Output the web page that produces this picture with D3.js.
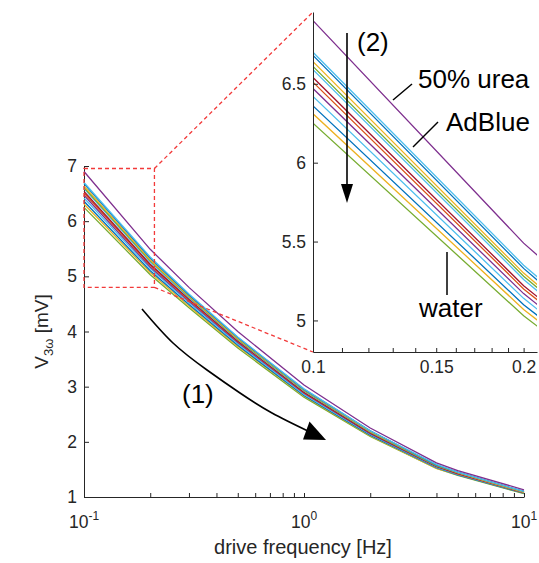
<!DOCTYPE html>
<html>
<head>
<meta charset="utf-8">
<script src="https://cdn.jsdelivr.net/npm/d3@7"></script>
<style>
  body { margin: 0; background: #fff; }
  text { font-family: "Liberation Sans", Arial, sans-serif; }
</style>
</head>
<body>
<svg id="chart" width="539" height="563"></svg>
<script>
// drive frequencies [Hz]
const freqs = [0.1, 0.2, 0.3, 0.5, 1, 2, 4, 5, 10];

// liquids, top curve to bottom curve
const liquids = ["50% urea", "AdBlue", "mix 3", "mix 4", "mix 5", "mix 6", "mix 7",
                 "mix 8", "mix 9", "mix 10", "mix 11", "mix 12", "water"];
const lineColors = ["#7E2F8E", "#4DBEEE", "#0072BD", "#EDB120", "#77AC30", "#4DBEEE", "#A2142F",
                    "#D95319", "#7E2F8E", "#4DBEEE", "#0072BD", "#EDB120", "#77AC30"];

// V_3w [mV] per liquid, one value per frequency
const voltages = [
  [6.90, 5.49, 4.80, 4.00, 3.03, 2.25, 1.62, 1.48, 1.13],
  [6.70, 5.35, 4.68, 3.90, 2.96, 2.20, 1.59, 1.45, 1.10],
  [6.68, 5.33, 4.66, 3.89, 2.95, 2.20, 1.58, 1.45, 1.10],
  [6.64, 5.30, 4.64, 3.87, 2.94, 2.19, 1.58, 1.44, 1.09],
  [6.61, 5.28, 4.63, 3.86, 2.93, 2.18, 1.57, 1.44, 1.09],
  [6.59, 5.26, 4.61, 3.85, 2.92, 2.18, 1.57, 1.44, 1.09],
  [6.54, 5.22, 4.59, 3.83, 2.90, 2.16, 1.56, 1.43, 1.09],
  [6.51, 5.20, 4.57, 3.82, 2.89, 2.16, 1.56, 1.42, 1.08],
  [6.47, 5.17, 4.55, 3.80, 2.88, 2.15, 1.55, 1.42, 1.08],
  [6.42, 5.14, 4.52, 3.78, 2.86, 2.14, 1.54, 1.41, 1.08],
  [6.36, 5.10, 4.49, 3.75, 2.84, 2.12, 1.53, 1.40, 1.07],
  [6.31, 5.07, 4.46, 3.73, 2.83, 2.11, 1.52, 1.40, 1.07],
  [6.25, 5.03, 4.43, 3.70, 2.81, 2.10, 1.52, 1.39, 1.06]
];

// axis ticks
const mainYTicks = [1, 2, 3, 4, 5, 6, 7];
const mainXMajor = [0.1, 1, 10];
const mainXMajorLabels = [["10", "-1"], ["10", "0"], ["10", "1"]];
const mainXMinor = [0.2, 0.3, 0.4, 0.5, 0.6, 0.7, 0.8, 0.9, 2, 3, 4, 5, 6, 7, 8, 9];
const insetYTicks = [5, 5.5, 6, 6.5];
const insetXTicks = [0.1, 0.11, 0.12, 0.13, 0.14, 0.15, 0.16, 0.17, 0.18, 0.19, 0.2];
const insetXLabels = [0.1, 0.15, 0.2];

// zoom window shown in the inset
const zoomX = [0.1, 0.209];
const zoomY = [4.80, 6.955];

const axisColor = "#262626";
const svg = d3.select("#chart");

const x = d3.scaleLog().domain([0.1, 10]).range([84, 524]);
const y = d3.scaleLinear().domain([1, 7]).range([497, 166]);

const ix = d3.scaleLog().domain(zoomX).range([313, 537]);
const iy = d3.scaleLinear().domain(zoomY).range([352, 12]);

const rows = liquids.map((name, i) => ({
  name: name,
  color: lineColors[i],
  pts: freqs.map((f, j) => ({ f: f, v: voltages[i][j] }))
}));

function styleAxis(g, size) {
  g.select(".domain").attr("stroke", axisColor).attr("stroke-width", 1);
  g.selectAll(".tick line").attr("stroke", axisColor);
  g.selectAll(".tick text").attr("fill", axisColor)
    .style("font-size", size + "px")
    .style("font-family", "'Liberation Sans', Arial, sans-serif");
}

// ---------- main axes ----------
const gy = svg.append("g").attr("transform", `translate(${x(0.1)},0)`)
  .call(d3.axisLeft(y).tickValues(mainYTicks).tickSizeInner(-5).tickSizeOuter(0)
    .tickPadding(7).tickFormat(d3.format("d")));
styleAxis(gy, 17.5);

const gx = svg.append("g").attr("transform", `translate(0,${y(1)})`)
  .call(d3.axisBottom(x).tickValues(mainXMajor.concat(mainXMinor))
    .tickSizeInner(-4).tickSizeOuter(0).tickFormat(() => ""));
styleAxis(gx, 17.5);

mainXMajor.forEach((f, i) => {
  const t = svg.append("text")
    .attr("x", x(f)).attr("y", 528)
    .attr("text-anchor", "middle")
    .attr("fill", axisColor)
    .style("font-size", "17.5px");
  t.append("tspan").text(mainXMajorLabels[i][0]);
  t.append("tspan").attr("dy", -8).style("font-size", "12px").text(mainXMajorLabels[i][1]);
});

svg.append("text")
  .attr("x", 303).attr("y", 554)
  .attr("text-anchor", "middle")
  .attr("fill", axisColor)
  .style("font-size", "20px")
  .text("drive frequency [Hz]");

const yl = svg.append("text")
  .attr("transform", `translate(48,${(y(1) + y(7)) / 2}) rotate(-90)`)
  .attr("text-anchor", "middle")
  .attr("fill", axisColor)
  .style("font-size", "19px");
yl.append("tspan").text("V");
yl.append("tspan").attr("dy", 5).style("font-size", "13px").text("3ω");
yl.append("tspan").attr("dy", -5).text(" [mV]");

// ---------- main curves ----------
const mainLine = d3.line().x(d => x(d.f)).y(d => y(d.v));
svg.append("g").selectAll("path")
  .data(rows.slice().reverse())
  .join("path")
  .attr("d", d => mainLine(d.pts))
  .attr("fill", "none")
  .attr("stroke", d => d.color)
  .attr("stroke-width", 1.3);

// ---------- zoom box and connectors ----------
const red = "#f23a3a";
const dashed = g => g.attr("fill", "none").attr("stroke", red)
  .attr("stroke-width", 1.3).attr("stroke-dasharray", "4,3");

svg.append("rect")
  .attr("x", x(zoomX[0])).attr("y", y(zoomY[1]))
  .attr("width", x(zoomX[1]) - x(zoomX[0]))
  .attr("height", y(zoomY[0]) - y(zoomY[1]))
  .call(dashed);

svg.append("line")
  .attr("x1", x(zoomX[1])).attr("y1", y(zoomY[1]))
  .attr("x2", ix(zoomX[0])).attr("y2", iy(zoomY[1]))
  .call(dashed);
svg.append("line")
  .attr("x1", x(zoomX[1])).attr("y1", y(zoomY[0]))
  .attr("x2", ix(zoomX[0])).attr("y2", iy(zoomY[0]))
  .call(dashed);

// ---------- inset ----------
svg.append("clipPath").attr("id", "inset-clip")
  .append("rect")
  .attr("x", ix(zoomX[0])).attr("y", iy(zoomY[1]))
  .attr("width", ix(zoomX[1]) - ix(zoomX[0]))
  .attr("height", iy(zoomY[0]) - iy(zoomY[1]));

const insetLine = d3.line().x(d => ix(d.f)).y(d => iy(d.v));
svg.append("g").attr("clip-path", "url(#inset-clip)")
  .selectAll("path")
  .data(rows.slice().reverse())
  .join("path")
  .attr("d", d => insetLine(d.pts))
  .attr("fill", "none")
  .attr("stroke", d => d.color)
  .attr("stroke-width", 1.3);

const igy = svg.append("g").attr("transform", `translate(${ix(zoomX[0])},0)`)
  .call(d3.axisLeft(iy).tickValues(insetYTicks).tickSizeInner(-5).tickSizeOuter(0)
    .tickPadding(7).tickFormat(d3.format("~g")));
styleAxis(igy, 17.5);

const igx = svg.append("g").attr("transform", `translate(0,${iy(zoomY[0])})`)
  .call(d3.axisBottom(ix).tickValues(insetXTicks).tickSizeInner(-4).tickSizeOuter(0)
    .tickPadding(9).tickFormat(d => insetXLabels.some(v => Math.abs(v - d) < 1e-9) ? d3.format("~g")(d) : ""));
styleAxis(igx, 17.5);

// ---------- annotations ----------
const ink = "#000";
const annot = (tx, ty, txt) => svg.append("text")
  .attr("x", tx).attr("y", ty).attr("fill", ink)
  .style("font-size", "26px").text(txt);

// (2) arrow
svg.append("line").attr("x1", 347).attr("y1", 33).attr("x2", 347).attr("y2", 188)
  .attr("stroke", ink).attr("stroke-width", 1.6);
svg.append("path").attr("d", "M341,184 L353,184 L347,203 Z").attr("fill", ink);
annot(357, 51, "(2)");

// leaders
svg.append("line").attr("x1", 393).attr("y1", 100).attr("x2", 412).attr("y2", 84)
  .attr("stroke", ink).attr("stroke-width", 1.5);
annot(418, 88, "50% urea");
svg.append("line").attr("x1", 413).attr("y1", 147).attr("x2", 438).attr("y2", 122)
  .attr("stroke", ink).attr("stroke-width", 1.5);
annot(446, 131, "AdBlue");
svg.append("line").attr("x1", 447).attr("y1", 252).attr("x2", 447).attr("y2", 295)
  .attr("stroke", ink).attr("stroke-width", 1.5);
annot(419, 317, "water");

// (1) curved arrow
const arc = [[142, 309], [173, 343], [207, 370], [240, 393], [272, 413], [310, 432]];
svg.append("path")
  .attr("d", d3.line().curve(d3.curveNatural)(arc))
  .attr("fill", "none").attr("stroke", ink).attr("stroke-width", 1.6);
svg.append("path").attr("d", "M303,439.5 L309.5,421.5 L326,440 Z").attr("fill", ink);
annot(182, 403, "(1)");
</script>
</body>
</html>
